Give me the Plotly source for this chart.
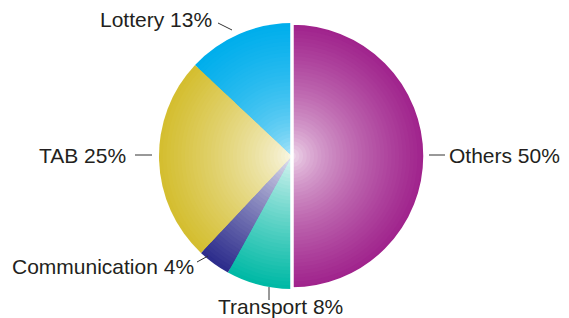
import plotly.graph_objects as go

# ---- data ----
categories = ["Others", "Transport", "Communication", "TAB", "Lottery"]
values = [50, 8, 4, 25, 13]

# ---- style ----
W, H = 569, 318
base_colors = [(160, 35, 140), (0, 185, 165), (45, 45, 140), (212, 190, 48), (0, 174, 236)]
gammas = [0.6, 0.8, 0.8, 0.75, 0.4]   # gradient shape per slice
CX, CY, R = 292, 156, 133
N = 36

def px_x(x):
    return x / W

def px_y(y):
    return 1 - y / H

def mix(c, f):
    return "rgb(%d,%d,%d)" % tuple(round(255 + (ci - 255) * f) for ci in c)

fig = go.Figure()
for i in range(N):
    t = (N - i) / N
    r = R * t
    cols = []
    for c, g in zip(base_colors, gammas):
        f = 0.08 + 0.92 * (t ** g)
        cols.append(mix(c, min(f, 1)))
    fig.add_trace(go.Pie(
        labels=categories, values=values, sort=False, direction="clockwise",
        rotation=0, textinfo="none", hoverinfo="skip", showlegend=False,
        marker=dict(colors=cols, line=dict(width=0)),
        domain=dict(x=[px_x(CX - r), px_x(CX + r)], y=[px_y(CY + r), px_y(CY - r)]),
    ))

# white separator on the "Others" slice
fig.add_trace(go.Pie(
    labels=categories, values=values, sort=False, direction="clockwise",
    rotation=0, textinfo="none", hoverinfo="skip", showlegend=False,
    marker=dict(colors=["rgba(0,0,0,0)"] * len(values),
                line=dict(color="white", width=[3.5, 0, 0, 0, 0])),
    domain=dict(x=[px_x(CX - R), px_x(CX + R)], y=[px_y(CY + R), px_y(CY - R)]),
))

labels = [f"{c} {v}%" for c, v in zip(categories, values)]
# label placement: (x, y, xanchor) in px, leader line (x0,y0,x1,y1) in px
label_pos = {
    "Others": (447, 155, "left", (429, 155, 445, 155)),
    "Transport": (280, 306, "center", (269, 287, 269, 300)),
    "Communication": (196, 266, "right", (197, 262, 208, 256)),
    "TAB": (128, 155, "right", (135, 155, 152, 155)),
    "Lottery": (214, 20, "right", (218, 23, 232, 30)),
}
annotations = []
shapes = []
for c, txt in zip(categories, labels):
    x, y, xa, ln = label_pos[c]
    annotations.append(dict(
        x=px_x(x), y=px_y(y), xref="paper", yref="paper", text=txt,
        showarrow=False, xanchor=xa, yanchor="middle",
        font=dict(family="Liberation Sans, Arial, sans-serif", size=21, color="#231f20"),
    ))
    shapes.append(dict(type="line", xref="paper", yref="paper",
                       x0=px_x(ln[0]), y0=px_y(ln[1]), x1=px_x(ln[2]), y1=px_y(ln[3]),
                       line=dict(color="#333333", width=1)))

fig.update_layout(
    width=W, height=H, margin=dict(l=0, r=0, t=0, b=0),
    paper_bgcolor="white", plot_bgcolor="white",
    annotations=annotations, shapes=shapes,
)
fig.write_html("out.html", config={"displayModeBar": False},
               post_script="document.body.style.margin='0';")
